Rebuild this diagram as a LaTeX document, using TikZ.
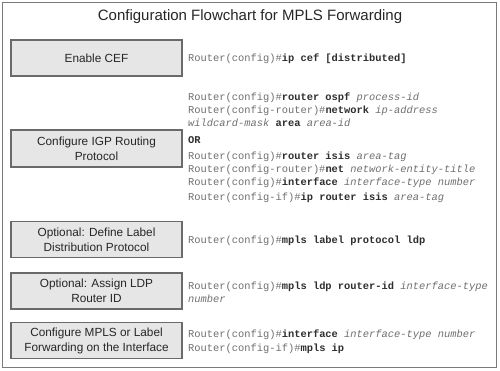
\documentclass[tikz,border=0pt]{standalone}
\usepackage{fontspec}
\setmainfont{Liberation Sans}
\newfontfamily\cmdfont{Liberation Mono}
\definecolor{framegray}{HTML}{7A7A7A}
\definecolor{boxfill}{HTML}{E6E6E6}
\definecolor{boxline}{HTML}{6A6A6A}
\definecolor{promptgray}{HTML}{6E6E6E}
\definecolor{kwcol}{HTML}{2E2E2E}
\newcommand{\cprompt}[1]{{\color{promptgray}#1}}
\newcommand{\ckw}[1]{{\color{kwcol}\bfseries #1}}
\newcommand{\carg}[1]{{\color{promptgray}\itshape #1}}
\begin{document}
\begin{tikzpicture}[x=1pt,y=-1pt,
  stepbox/.style={draw=boxline,line width=1.3pt,fill=boxfill,minimum width=171pt,
    minimum height=36pt,inner sep=0pt,align=center,
    font=\fontsize{11.8}{15}\selectfont,text=black!85},
  cmd/.style={anchor=base west,inner sep=0pt,font=\cmdfont\fontsize{10.4}{13}\selectfont}]
\useasboundingbox (0,0) rectangle (500,371);
\draw[framegray,line width=1.6pt] (2.5,2.5) rectangle (496.5,367.5);
\node[font=\fontsize{15}{18}\selectfont,text=black!85] (title) at (250,17) {Configuration Flowchart for MPLS Forwarding};

\node[stepbox] (b1) at (96.5,58) {Enable CEF};
\node[stepbox,minimum height=37pt] (b2) at (96.5,148.5) {Configure IGP Routing\\Protocol};
\node[stepbox] (b3) at (96.5,239.5) {Optional: Define Label\\Distribution Protocol};
\node[stepbox] (b4) at (96.5,291) {Optional: Assign LDP\\Router ID};
\node[stepbox] (b5) at (96.5,340.5) {Configure MPLS or Label\\Forwarding on the Interface};

\node[cmd] (c1) at (188,61.5) {\cprompt{Router(config)\#}\ckw{ip cef [distributed]}};

\node[cmd] (c2a) at (188,100.5) {\cprompt{Router(config)\#}\ckw{router ospf} \carg{process-id}};
\node[cmd] (c2b) at (188,114) {\cprompt{Router(config-router)\#}\ckw{network} \carg{ip-address}};
\node[cmd] (c2c) at (188,127) {\carg{wildcard-mask} \ckw{area} \carg{area-id}};
\node[cmd] (c2or) at (188,143.5) {\ckw{OR}};
\node[cmd] (c2d) at (188,159.5) {\cprompt{Router(config)\#}\ckw{router isis} \carg{area-tag}};
\node[cmd] (c2e) at (188,172.5) {\cprompt{Router(config-router)\#}\ckw{net} \carg{network-entity-title}};
\node[cmd] (c2f) at (188,185.5) {\cprompt{Router(config)\#}\ckw{interface} \carg{interface-type number}};
\node[cmd] (c2g) at (188,200.5) {\cprompt{Router(config-if)\#}\ckw{ip router isis} \carg{area-tag}};

\node[cmd] (c3) at (188,243.5) {\cprompt{Router(config)\#}\ckw{mpls label protocol ldp}};

\node[cmd] (c4a) at (188,289.5) {\cprompt{Router(config)\#}\ckw{mpls ldp router-id} \carg{interface-type}};
\node[cmd] (c4b) at (188,302.5) {\carg{number}};

\node[cmd] (c5a) at (188,337.5) {\cprompt{Router(config)\#}\ckw{interface} \carg{interface-type number}};
\node[cmd] (c5b) at (188,351.5) {\cprompt{Router(config-if)\#}\ckw{mpls ip}};
\end{tikzpicture}
\end{document}
